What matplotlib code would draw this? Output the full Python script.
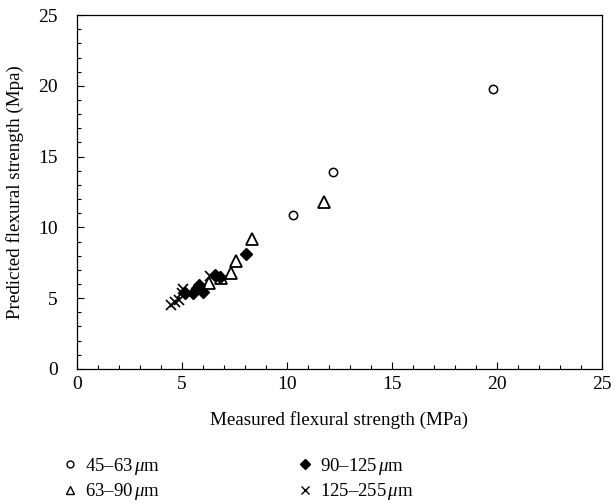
import matplotlib
matplotlib.use("Agg")
import matplotlib.pyplot as plt
from matplotlib.ticker import MultipleLocator

plt.rcParams['font.family'] = ['Liberation Serif', 'DejaVu Serif']
plt.rcParams['mathtext.fontset'] = 'custom'
plt.rcParams['mathtext.it'] = 'Liberation Serif:italic'
plt.rcParams['mathtext.rm'] = 'Liberation Serif'

labels = ['45–63$\\,\\mathit{\\mu}$m', '63–90$\\,\\mathit{\\mu}$m',
          '90–125$\\,\\mathit{\\mu}$m', '125–255$\\,\\mathit{\\mu}$m']

x_45_63 = [10.3, 12.2, 19.8]
y_45_63 = [10.85, 13.95, 19.8]

x_63_90 = [11.75, 8.33, 7.57, 7.33, 6.84, 6.3]
y_63_90 = [11.8, 9.18, 7.6, 6.76, 6.45, 6.1]

x_90_125 = [8.05, 6.57, 6.81, 5.83, 6.0, 5.7, 5.54, 5.14]
y_90_125 = [8.1, 6.64, 6.52, 5.9, 5.46, 5.7, 5.4, 5.34]

x_125_255 = [4.5, 4.67, 4.85, 4.98, 5.06, 6.33]
y_125_255 = [4.5, 4.7, 4.85, 5.34, 5.65, 6.55]

fig = plt.figure(figsize=(6.16, 5.04), dpi=100)
ax = fig.add_axes([0.125, 0.268, 0.852, 0.702])

h1, = ax.plot(x_45_63, y_45_63, linestyle='none', marker='o', mfc='white', mec='black', mew=1.1, ms=6)
h2, = ax.plot(x_63_90, y_63_90, linestyle='none', marker='^', mfc='white', mec='black', mew=1.3, ms=8)
h3, = ax.plot(x_90_125, y_90_125, linestyle='none', marker='D', mfc='black', mec='black', ms=6)
h4, = ax.plot(x_125_255, y_125_255, linestyle='none', marker='x', color='black', mew=1.2, ms=7)

ax.set_xlim(0, 25)
ax.set_ylim(0, 25)
ax.xaxis.set_major_locator(MultipleLocator(5))
ax.yaxis.set_major_locator(MultipleLocator(5))
ax.xaxis.set_minor_locator(MultipleLocator(1))
ax.yaxis.set_minor_locator(MultipleLocator(1))
ax.tick_params(which='both', direction='in', top=False, right=False, labelsize=14, width=0.8)
ax.tick_params(which='major', length=5)
ax.tick_params(axis='x', which='major', pad=5)
ax.tick_params(axis='y', which='major', pad=14)
ax.tick_params(which='minor', length=3)
for s in ax.spines.values():
    s.set_linewidth(0.9)

ax.set_xlabel('Measured flexural strength (MPa)', fontsize=13.7, labelpad=13)
ax.set_ylabel('Predicted flexural strength (Mpa)', fontsize=13.7, labelpad=10)

leg = fig.legend([h1, h2, h3, h4], labels, ncol=2, loc='upper left',
                 bbox_to_anchor=(0.088, 0.11), frameon=False, fontsize=13.5,
                 columnspacing=7.3, handlelength=0.9, handletextpad=0.35,
                 labelspacing=0.22, borderaxespad=0)
for hd, ms in zip(leg.legend_handles, [5, 6, 5.5, 6]):
    hd.set_markersize(ms)
    hd.set_markeredgewidth(1.0)

fig.savefig('out.png', dpi=100)
